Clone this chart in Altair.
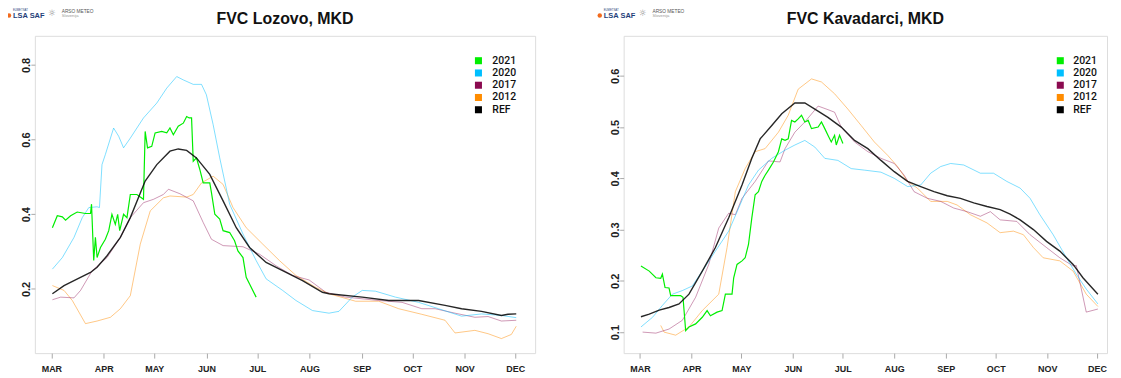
import altair as alt
import pandas as pd

# ---------------- data (days since 1 March, FVC values) ----------------
SERIES = ["2021", "2020", "2017", "2012", "REF"]
COLORS = ["#00ee00", "#00bfff", "#8b0a50", "#ff8c00", "#000000"]
DRAW_ORDER = ["2012", "2017", "2020", "2021", "REF"]
OPAC = {"2021": 1.0, "2020": 0.5, "2017": 0.42, "2012": 0.48, "REF": 0.85}
WIDTHS = {"2021": 1.2, "2020": 1.0, "2017": 1.0, "2012": 1.0, "REF": 1.4}

MONTH_DAYS = [0, 31, 61, 92, 122, 153, 184, 214, 245, 275]
MONTH_LABELS = ["MAR", "APR", "MAY", "JUN", "JUL", "AUG", "SEP", "OCT", "NOV", "DEC"]

# ---- Lozovo ----
L_REF_D = [0.6, 7.5, 13.4, 23.2, 27.1, 33, 40.9, 46.8, 55.6, 62.5, 70.3, 75.2, 80.2, 86, 93.9, 101.8, 109.6,
           117.5, 127.3, 137.1, 148.9, 160.7, 164.6, 184.3, 200, 217.7, 233.4, 243.2, 255, 266.8, 270.7, 275.6]
L_REF_V = [0.187, 0.209, 0.222, 0.244, 0.258, 0.289, 0.338, 0.391, 0.489, 0.533, 0.569, 0.575, 0.571, 0.551,
           0.507, 0.436, 0.364, 0.311, 0.271, 0.249, 0.222, 0.191, 0.187, 0.178, 0.169, 0.169, 0.156, 0.147,
           0.140, 0.129, 0.132, 0.133]

L_2020_D = [0.6, 6.5, 13.4, 18.3, 22.2, 27.1, 28.5, 30, 32, 36.9, 39.9, 42.8, 46.8, 54.6, 62.5, 68.4, 74.3,
            78.2, 84.1, 89, 91.9, 95.9, 99.8, 105.7, 113.6, 121.4, 127.3, 137.1, 145, 154.8, 164.6, 170.5,
            178.4, 184.3, 192.1, 204, 217.7, 229.5, 243.2, 255, 266.8, 275.6]
L_2020_V = [0.253, 0.284, 0.338, 0.391, 0.418, 0.420, 0.418, 0.533, 0.560, 0.631, 0.609, 0.578, 0.604, 0.658,
            0.698, 0.738, 0.769, 0.760, 0.748, 0.748, 0.720, 0.640, 0.551, 0.427, 0.347, 0.276, 0.227, 0.196,
            0.169, 0.142, 0.135, 0.140, 0.178, 0.196, 0.194, 0.178, 0.164, 0.147, 0.127, 0.133, 0.129, 0.123]

L_2017_D = [0.6, 5.5, 13.4, 17.3, 24.2, 33, 40.9, 46.8, 54.6, 60.5, 66.4, 69.4, 76.2, 84.1, 90, 94.9, 101.8,
            113.6, 123.4, 133.2, 143, 152.8, 162.7, 174.5, 194.1, 207.9, 219.6, 227.5, 239.3, 251.1, 258.9,
            266.8, 275.6]
L_2017_V = [0.171, 0.178, 0.176, 0.196, 0.249, 0.284, 0.338, 0.391, 0.431, 0.440, 0.453, 0.467, 0.455, 0.436,
            0.378, 0.333, 0.316, 0.313, 0.293, 0.262, 0.236, 0.224, 0.191, 0.178, 0.169, 0.164, 0.147, 0.147,
            0.135, 0.124, 0.126, 0.114, 0.116]

L_2012_D = [0.6, 7.5, 12.4, 20.2, 27.1, 35, 40.9, 46.8, 52.7, 58.6, 66.4, 70.3, 80.2, 84.1, 89, 95.9, 101.8,
            107.7, 115.5, 125.3, 135.2, 145, 156.8, 164.6, 180.4, 194.1, 205.9, 219.6, 233.4, 239.3, 251.1,
            258.9, 266.8, 272.7, 275.6]
L_2012_V = [0.209, 0.196, 0.169, 0.107, 0.114, 0.124, 0.147, 0.182, 0.320, 0.409, 0.444, 0.449, 0.446, 0.453,
            0.484, 0.502, 0.480, 0.418, 0.364, 0.320, 0.276, 0.236, 0.204, 0.187, 0.167, 0.167, 0.147, 0.132,
            0.116, 0.082, 0.089, 0.080, 0.067, 0.078, 0.100]

L_2021_D = [0.6, 3.5, 6.5, 8.4, 11.4, 15.3, 20.2, 23.2, 23.8, 25.1, 26.1, 27.1, 29.1, 32, 34, 35.9, 37.9,
            39.3, 40.5, 42.8, 44.8, 46.8, 50.7, 54.6, 55.6, 57, 59.5, 61.5, 65.4, 68.4, 70.3, 72.3, 75.2, 78.2,
            80.2, 81.7, 83.1, 84.1, 86, 88, 90, 93.9, 94.9, 96.9, 99.8, 101.8, 105.7, 108.6, 110.6, 113.6,
            115.5, 117.5, 121.4]
L_2021_V = [0.364, 0.396, 0.393, 0.384, 0.396, 0.406, 0.402, 0.402, 0.427, 0.276, 0.338, 0.284, 0.311, 0.333,
            0.356, 0.400, 0.373, 0.400, 0.356, 0.400, 0.391, 0.453, 0.453, 0.440, 0.622, 0.578, 0.582, 0.618,
            0.622, 0.618, 0.631, 0.613, 0.636, 0.644, 0.662, 0.658, 0.658, 0.542, 0.551, 0.520, 0.484, 0.484,
            0.458, 0.400, 0.387, 0.356, 0.351, 0.329, 0.302, 0.284, 0.231, 0.213, 0.178]

# ---- Kavadarci ----
K_REF_D = [0.6, 5.6, 11.6, 17.5, 23.5, 29.5, 37.5, 45.4, 53.4, 61.4, 67.3, 72.3, 79.3, 85.3, 93.2, 99.2,
           105.2, 113.1, 121.1, 129.1, 137.1, 145, 153, 161, 168.9, 176.9, 184.9, 192.8, 200.8, 208.8, 216.7,
           222.7, 228.7, 236.7, 244.6, 252.6, 260.6, 266.5, 275.5]
K_REF_V = [0.130, 0.135, 0.143, 0.148, 0.155, 0.174, 0.219, 0.265, 0.323, 0.387, 0.439, 0.477, 0.503, 0.526,
           0.547, 0.547, 0.535, 0.519, 0.500, 0.474, 0.458, 0.435, 0.413, 0.394, 0.384, 0.374, 0.366, 0.361,
           0.352, 0.345, 0.339, 0.330, 0.319, 0.300, 0.277, 0.258, 0.232, 0.206, 0.174]

K_2020_D = [0.6, 7.6, 13.5, 19.5, 25.5, 31.5, 37.5, 45.4, 53.4, 59.4, 65.3, 71.3, 79.3, 87.3, 93.2, 99.2,
            105.2, 111.2, 119.1, 127.1, 135.1, 145, 153, 161, 168.9, 174.9, 180.9, 186.9, 194.8, 204.8, 212.7,
            220.7, 228.7, 234.7, 240.6, 248.6, 256.6, 262.5, 268.5, 275.5]
K_2020_V = [0.110, 0.129, 0.152, 0.174, 0.181, 0.190, 0.219, 0.258, 0.297, 0.342, 0.387, 0.416, 0.439, 0.455,
            0.465, 0.474, 0.461, 0.439, 0.435, 0.419, 0.416, 0.412, 0.400, 0.384, 0.387, 0.410, 0.423, 0.429,
            0.426, 0.410, 0.410, 0.394, 0.381, 0.361, 0.329, 0.290, 0.245, 0.213, 0.184, 0.155]

K_2017_D = [1.6, 9.6, 17.5, 25.5, 33.5, 41.4, 47.4, 53.4, 57.4, 61.4, 69.3, 77.3, 84.3, 87.3, 93.2, 99.2,
            107.2, 113.1, 117.1, 121.1, 129.1, 137.1, 145, 153, 159, 164.9, 172.9, 180.9, 188.8, 196.8, 204.8,
            210.8, 216.7, 226.7, 234.7, 244.6, 252.6, 260.6, 262.5, 268.5, 275.5]
K_2017_V = [0.100, 0.098, 0.106, 0.123, 0.168, 0.232, 0.303, 0.332, 0.329, 0.361, 0.394, 0.434, 0.432, 0.458,
            0.490, 0.510, 0.541, 0.534, 0.529, 0.500, 0.471, 0.452, 0.439, 0.429, 0.406, 0.374, 0.361, 0.355,
            0.342, 0.335, 0.326, 0.335, 0.319, 0.316, 0.290, 0.265, 0.245, 0.229, 0.230, 0.139, 0.145]

K_2012_D = [12.5, 14.5, 21.5, 29.5, 37.5, 47.4, 52.4, 57.4, 63.3, 69.3, 75.3, 83.3, 89.2, 95.2, 103.2, 109.2,
            117.1, 125.1, 133.1, 141, 149, 155, 161, 166.9, 174.9, 184.9, 190.8, 198.8, 208.8, 216.7, 224.7,
            230.7, 236.7, 242.6, 252.6, 260.6, 268.5, 275.5]
K_2012_V = [0.113, 0.100, 0.094, 0.110, 0.142, 0.174, 0.265, 0.374, 0.419, 0.452, 0.458, 0.490, 0.523, 0.574,
            0.594, 0.588, 0.565, 0.535, 0.503, 0.471, 0.445, 0.423, 0.394, 0.381, 0.355, 0.355, 0.348, 0.329,
            0.313, 0.294, 0.297, 0.290, 0.265, 0.245, 0.239, 0.219, 0.174, 0.150]

K_2021_D = [0.6, 5.6, 9.6, 12.5, 13.5, 15.1, 17.5, 18.5, 24.5, 25.9, 27.5, 29.5, 33.5, 37.5, 40.4, 42.4, 46.4,
            49.4, 51.4, 55.4, 56.4, 58.4, 61.4, 63.3, 65.3, 67.3, 69.3, 71.3, 73.3, 75.3, 77.3, 80.3, 83.3,
            85.3, 87.3, 89.2, 91.2, 93.2, 95.2, 97.2, 99.2, 101.2, 103.2, 107.2, 109.2, 111.2, 113.1, 115.1,
            117.1, 118.1, 120.1, 122.1]
K_2021_V = [0.229, 0.219, 0.206, 0.205, 0.213, 0.187, 0.186, 0.171, 0.171, 0.168, 0.103, 0.110, 0.116, 0.129,
            0.142, 0.132, 0.139, 0.142, 0.174, 0.174, 0.206, 0.232, 0.239, 0.245, 0.271, 0.323, 0.368, 0.374,
            0.394, 0.406, 0.416, 0.432, 0.452, 0.477, 0.474, 0.477, 0.513, 0.510, 0.516, 0.523, 0.510, 0.513,
            0.497, 0.500, 0.510, 0.497, 0.484, 0.471, 0.484, 0.465, 0.484, 0.468]

TITLES = ["FVC Lozovo, MKD", "FVC Kavadarci, MKD"]


def build(parts):
    rows = []
    for name, ds, vs in parts:
        for d, v in zip(ds, vs):
            rows.append({"series": name, "day": d, "fvc": v})
    return pd.DataFrame(rows)


df_left = build([("REF", L_REF_D, L_REF_V), ("2012", L_2012_D, L_2012_V), ("2017", L_2017_D, L_2017_V),
                 ("2020", L_2020_D, L_2020_V), ("2021", L_2021_D, L_2021_V)])
df_right = build([("REF", K_REF_D, K_REF_V), ("2012", K_2012_D, K_2012_V), ("2017", K_2017_D, K_2017_V),
                  ("2020", K_2020_D, K_2020_V), ("2021", K_2021_D, K_2021_V)])
df_keys = pd.DataFrame({"series": SERIES})

label_expr = "[" + ",".join("'%s'" % m for m in MONTH_LABELS) + "][indexof([" + \
    ",".join(str(d) for d in MONTH_DAYS) + "], datum.value)]"

GRAY = "#a8a8a8"


def panel(df, title, xdom, ydom, yticks, width, lsx, ltx, lg):
    xenc = alt.X("day:Q", scale=alt.Scale(domain=xdom, nice=False, zero=False),
                 axis=alt.Axis(values=MONTH_DAYS, labelExpr=label_expr, title=None, grid=False, domain=False,
                               tickSize=5, tickColor=GRAY, labelFontSize=9, labelFont="Liberation Sans",
                               labelFontWeight="bold", labelColor="#222", labelPadding=6))
    yenc = alt.Y("fvc:Q", scale=alt.Scale(domain=ydom, nice=False, zero=False),
                 axis=alt.Axis(values=yticks, format=".1f", title=None, grid=False, domain=False,
                               tickSize=4, tickColor=GRAY, labelAngle=270, labelAlign="center",
                               labelBaseline="alphabetic", labelFontSize=11, labelFont="Liberation Sans",
                               labelFontWeight="bold", labelColor="#222", labelPadding=1))
    cscale = alt.Scale(domain=SERIES, range=COLORS)
    layers = []
    for s in DRAW_ORDER:
        layers.append(
            alt.Chart(df).transform_filter(alt.datum.series == s).mark_line(
                interpolate="linear", opacity=OPAC[s], strokeWidth=WIDTHS[s]
            ).encode(x=xenc, y=yenc, color=alt.Color("series:N", scale=cscale, legend=None))
        )
    lines = alt.layer(*layers)

    # key (legend) drawn from the series list
    ky = alt.Y("series:N", scale=alt.Scale(type="point", domain=SERIES, range=[25, 74.3], padding=0), axis=None)
    key_sq = alt.Chart(df_keys).mark_square(size=50, opacity=1).encode(
        x=alt.value(lsx), y=ky, color=alt.Color("series:N", scale=cscale, legend=None))
    key_tx = alt.Chart(df_keys).mark_text(font="Roboto", fontSize=10.5, fontWeight=500, color="#111",
                                          align="left", baseline="middle").encode(
        x=alt.value(ltx), y=ky, text="series:N")
    keys = alt.layer(key_sq, key_tx)

    base = alt.Chart(pd.DataFrame({"a": [0]}))
    head = base.mark_text(text=title, font="Liberation Sans", fontWeight="bold", fontSize=16, color="#111",
                          align="center", baseline="alphabetic").encode(x=alt.value(width / 2), y=alt.value(-11.5))
    dot = base.mark_circle(color="#f26b1d", size=20, opacity=1).encode(x=alt.value(lg), y=alt.value(-20.5))
    lsa = base.mark_text(text="LSA SAF", font="Liberation Sans", fontWeight="bold", fontSize=7.5,
                         color="#1f3f7a", align="left", baseline="middle").encode(x=alt.value(lg + 4), y=alt.value(-19.5))
    tiny = base.mark_text(text="EUMETSAT", font="Liberation Sans", fontSize=2.8, color="#1f3f7a",
                          align="left", baseline="middle").encode(x=alt.value(lg + 4), y=alt.value(-25.5))
    sun = base.mark_text(text="☼", font="DejaVu Sans", fontSize=9, color="#888",
                         align="center", baseline="middle").encode(x=alt.value(lg + 43), y=alt.value(-22.5))
    arso = base.mark_text(text="ARSO METEO", font="Liberation Sans", fontSize=4.8, color="#555",
                          align="left", baseline="middle").encode(x=alt.value(lg + 53), y=alt.value(-24))
    slo = base.mark_text(text="Slovenija", font="Liberation Sans", fontSize=4.2, color="#999",
                         align="left", baseline="middle").encode(x=alt.value(lg + 53), y=alt.value(-19.5))
    return alt.layer(lines, keys, head, dot, lsa, tiny, sun, arso, slo).resolve_scale(
        y="independent").properties(width=width, height=319)


left = panel(df_left, TITLES[0], [-9.8, 286.8], [0.028, 0.878], [0.2, 0.4, 0.6, 0.8], 503, 446, 460, -26)
right = panel(df_right, TITLES[1], [-9.8, 281.0], [0.059, 0.678], [0.1, 0.2, 0.3, 0.4, 0.5, 0.6],
              486, 439, 452, -24)

chart = alt.hconcat(left, right, spacing=61).resolve_scale(
    color="independent"
).properties(
    padding={"left": -2, "top": -1, "right": 5, "bottom": 0}
).configure_view(stroke=GRAY, strokeWidth=1.3).configure(background="white")

chart.save("out.html", embed_options={"renderer": "svg", "actions": False})
